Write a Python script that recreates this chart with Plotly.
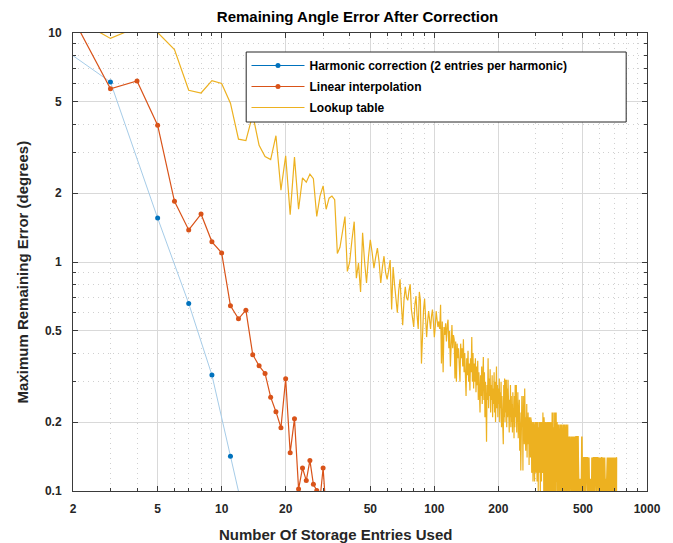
import plotly.graph_objects as go

# ---- data -----------------------------------------------------------------
# Harmonic correction: storage entries (odd counts) and max remaining error
harmonic_entries = [3, 5, 7, 9, 11]
harmonic_err = [6.11, 1.555, 0.659, 0.321, 0.142]
# Pale guide line through the harmonic results
harmonic_fit_entries = [2, 3, 5, 7, 9, 11, 13]
harmonic_fit_err = [7.96, 6.11, 1.555, 0.659, 0.321, 0.142, 0.072]

# Linear interpolation, entries 2..31
linear_entries = list(range(2, 32))
linear_err = [11.6, 5.71, 6.17, 3.96, 1.84, 1.38, 1.62, 1.225, 1.096, 0.644,
              0.565, 0.616, 0.394, 0.352, 0.326, 0.257, 0.222, 0.189, 0.309, 0.147,
              0.207, 0.102, 0.126, 0.111, 0.136, 0.107, 0.1006, 0.092, 0.126, 0.08]

# Lookup table, entries 2..721
lookup_err = [
    11.7, 9.47, 10.6, 10.05, 8.46, 5.62, 5.47, 6.19, 6.02,                      # 2-10
    4.94, 3.44, 3.39, 4.4, 3.23, 2.89, 2.80, 3.56, 2.06, 2.91,                  # 11-20
    1.61, 2.87, 1.70, 2.33, 2.23, 2.42, 2.31, 1.58, 1.94, 2.15,                 # 21-30
    1.70, 1.90, 1.94, 1.87, 1.09, 1.16, 1.35, 1.58, 0.91, 1.00,                 # 31-40
    1.25, 1.50, 0.85, 0.99, 0.74, 1.34, 1.00, 0.81, 1.05, 1.25,                 # 41-50
    1.10, 0.94, 1.05, 1.15, 1.00, 0.81, 0.95, 1.06, 0.90, 0.84,                 # 51-60
    0.92, 1.02, 0.62, 0.95, 0.80, 0.70, 0.60, 0.75, 0.84, 0.65,                 # 61-70
    0.53, 0.68, 0.78, 0.70, 0.68, 0.75, 0.80, 0.62, 0.55, 0.52,                 # 71-80
    0.65, 0.71, 0.58, 0.51, 0.74, 0.68, 0.36, 0.52, 0.62, 0.69,                 # 81-90
    0.55, 0.47, 0.55, 0.61, 0.56, 0.51, 0.58, 0.62, 0.55, 0.47,                 # 91-100
    0.52, 0.61, 0.56, 0.52, 0.55, 0.51, 0.65, 0.36, 0.55, 0.33,                 # 101-110
    0.52, 0.48, 0.54, 0.45, 0.53, 0.56, 0.42, 0.50, 0.35, 0.47,                 # 111-120
    0.53, 0.42, 0.48, 0.46, 0.31, 0.45, 0.30, 0.44, 0.38, 0.42,                 # 121-130
    0.36, 0.30, 0.44, 0.38, 0.42, 0.35, 0.46, 0.33, 0.40, 0.30,                 # 131-140
    0.26, 0.38, 0.32, 0.41, 0.30, 0.36, 0.275, 0.38, 0.33, 0.47,                # 141-150
    0.30, 0.40, 0.28, 0.36, 0.30, 0.38, 0.27, 0.35, 0.29, 0.37,                 # 151-160
    0.25, 0.33, 0.27, 0.22, 0.32, 0.26, 0.35, 0.24, 0.31, 0.385,                # 161-170
    0.25, 0.33, 0.21, 0.30, 0.24, 0.164, 0.29, 0.25, 0.38, 0.23,                # 171-180
    0.31, 0.26, 0.34, 0.22, 0.29, 0.25, 0.32, 0.21, 0.28, 0.24,                 # 181-190
    0.33, 0.22, 0.30, 0.20, 0.27, 0.35, 0.23, 0.29, 0.21, 0.28,                 # 191-200
    0.24, 0.31, 0.20, 0.27, 0.23, 0.30, 0.19, 0.26, 0.22, 0.17,                 # 201-210
    0.16, 0.29, 0.21, 0.31, 0.20, 0.306, 0.22, 0.306, 0.19, 0.28,               # 211-220
    0.21, 0.306, 0.20, 0.27, 0.18, 0.25, 0.21, 0.29, 0.19, 0.26,                # 221-230
    0.20, 0.24, 0.18, 0.27, 0.20, 0.23, 0.17, 0.26, 0.19, 0.29,                 # 231-240
    0.21, 0.25, 0.29, 0.18, 0.24, 0.20, 0.27, 0.17, 0.23, 0.19,                 # 241-250
    0.25, 0.15, 0.22, 0.18, 0.123, 0.24, 0.17, 0.26, 0.19, 0.22,                # 251-260
    0.123, 0.26, 0.18, 0.23, 0.16, 0.28, 0.19, 0.22, 0.15, 0.21,                # 261-270
    0.17, 0.24, 0.14, 0.20, 0.16, 0.22, 0.18, 0.20, 0.13, 0.21,                 # 271-280
    0.17, 0.20, 0.14, 0.21, 0.16, 0.20, 0.12, 0.19, 0.15, 0.20,                 # 281-290
    0.11, 0.18, 0.14, 0.20, 0.13, 0.11, 0.19, 0.15, 0.20, 0.12,                 # 291-300
    0.18, 0.14, 0.20, 0.11, 0.17, 0.13, 0.20, 0.10, 0.16, 0.19,                 # 301-310
    0.12, 0.20, 0.14, 0.17, 0.09, 0.20, 0.13, 0.18, 0.11, 0.20,                 # 311-320
    0.14, 0.22, 0.12, 0.22, 0.15, 0.19, 0.10, 0.21, 0.13, 0.18,                 # 321-330
    0.09, 0.20, 0.12, 0.18, 0.10, 0.20, 0.14, 0.09, 0.19, 0.12,                 # 331-340
    0.20, 0.10, 0.17, 0.13, 0.20, 0.09, 0.18, 0.11, 0.20, 0.14,                 # 341-350
    0.09, 0.19, 0.12, 0.20, 0.10, 0.17, 0.14, 0.22, 0.10, 0.22,                 # 351-360
    0.13, 0.22, 0.09, 0.22, 0.12, 0.19, 0.10, 0.22, 0.14, 0.20,                 # 361-370
    0.09, 0.22, 0.11, 0.22, 0.13, 0.18, 0.09, 0.20, 0.14, 0.195,                # 371-380
    0.10, 0.195, 0.12, 0.17, 0.09, 0.195, 0.14, 0.195, 0.10, 0.17,              # 381-390
    0.12, 0.195, 0.09, 0.195, 0.14, 0.17, 0.10, 0.195, 0.12, 0.195,             # 391-400
    0.09, 0.17, 0.14, 0.195, 0.10, 0.195, 0.12, 0.14, 0.09, 0.195,              # 401-410
    0.14, 0.195, 0.10, 0.17, 0.12, 0.195, 0.09, 0.195, 0.14, 0.17,              # 411-420
    0.10, 0.17, 0.14, 0.195, 0.09, 0.17, 0.14, 0.10, 0.17, 0.12,                # 421-430
    0.173, 0.09, 0.14, 0.173, 0.10, 0.14, 0.173, 0.12, 0.09, 0.173,             # 431-440
    0.14, 0.10, 0.173, 0.14, 0.09, 0.173, 0.12, 0.14, 0.10, 0.173,              # 441-450
    0.14, 0.09, 0.14, 0.173, 0.10, 0.14, 0.12, 0.173, 0.09, 0.14,               # 451-460
    0.173, 0.10, 0.173, 0.173, 0.14, 0.09, 0.14, 0.173, 0.173, 0.10,            # 461-470
    0.14, 0.14, 0.09, 0.173, 0.173, 0.14, 0.10, 0.14, 0.14, 0.09,               # 471-480
    0.113, 0.09, 0.113, 0.09, 0.113, 0.09, 0.113, 0.09, 0.113, 0.09,            # 481-490
    0.113, 0.09, 0.173, 0.09, 0.173, 0.09, 0.113, 0.14, 0.09, 0.14,             # 491-500
    0.09, 0.14, 0.09, 0.14, 0.14, 0.09, 0.14, 0.09, 0.14, 0.09,                 # 501-510
    0.14, 0.14, 0.09, 0.14, 0.09, 0.14, 0.09, 0.14, 0.14, 0.09,                 # 511-520
    0.14, 0.09, 0.14, 0.09, 0.14, 0.14, 0.09, 0.14, 0.09, 0.14,                 # 521-530
    0.09, 0.14, 0.09, 0.14, 0.113, 0.09, 0.113, 0.09, 0.113, 0.09,              # 531-540
    0.113, 0.09, 0.113, 0.09, 0.113, 0.09, 0.113, 0.09, 0.113, 0.14,            # 541-550
    0.09, 0.14, 0.14, 0.09, 0.14, 0.09, 0.14, 0.09, 0.14, 0.14,                 # 551-560
    0.09, 0.14, 0.09, 0.14, 0.09, 0.14, 0.14, 0.09, 0.14, 0.09,                 # 561-570
    0.14, 0.09, 0.14, 0.14, 0.09, 0.14, 0.09, 0.14, 0.09, 0.14,                 # 571-580
    0.14, 0.09, 0.14, 0.09, 0.14, 0.09, 0.14, 0.14, 0.09, 0.113,                # 581-590
    0.09, 0.113, 0.09, 0.113, 0.09, 0.14, 0.09, 0.14, 0.14, 0.09,               # 591-600
    0.14, 0.09, 0.14, 0.09, 0.14, 0.14, 0.09, 0.14, 0.09, 0.14,                 # 601-610
    0.09, 0.14, 0.14, 0.09, 0.14, 0.09, 0.14, 0.09, 0.14, 0.14,                 # 611-620
    0.09, 0.14, 0.09, 0.14, 0.09, 0.14, 0.14, 0.09, 0.14, 0.09,                 # 621-630
    0.14, 0.09, 0.14, 0.14, 0.09, 0.14, 0.09, 0.14, 0.09, 0.113,                # 631-640
    0.09, 0.113, 0.09, 0.113, 0.09, 0.113, 0.09, 0.113, 0.09, 0.14,             # 641-650
    0.09, 0.14, 0.14, 0.09, 0.14, 0.09, 0.14, 0.09, 0.14, 0.14,                 # 651-660
    0.09, 0.14, 0.09, 0.14, 0.09, 0.14, 0.14, 0.09, 0.14, 0.09,                 # 661-670
    0.14, 0.09, 0.14, 0.14, 0.09, 0.14, 0.09, 0.14, 0.09, 0.14,                 # 671-680
    0.14, 0.09, 0.14, 0.09, 0.14, 0.09, 0.14, 0.14, 0.09, 0.14,                 # 681-690
    0.09, 0.14, 0.09, 0.14, 0.14, 0.09, 0.14, 0.09, 0.14, 0.09,                 # 691-700
    0.14, 0.14, 0.09, 0.14, 0.09, 0.14, 0.09, 0.14, 0.14, 0.09,                 # 701-710
    0.14, 0.09, 0.14, 0.09, 0.14, 0.14, 0.09, 0.14, 0.09, 0.14,                 # 711-720
    0.14,                                                                      # 721
]
lookup_entries = list(range(2, 2 + len(lookup_err)))

x_tickvals = [2, 5, 10, 20, 50, 100, 200, 500, 1000]
x_minor = [3, 4, 6, 7, 8, 9, 30, 40, 60, 70, 80, 90, 300, 400, 600, 700, 800, 900]
y_tickvals = [0.1, 0.2, 0.5, 1, 2, 5, 10]
y_ticktext = ["0.1", "0.2", "0.5", "1", "2", "5", "10"]
y_minor = [0.3, 0.4, 0.6, 0.7, 0.8, 0.9, 3, 4, 6, 7, 8, 9]

names = ["Harmonic correction (2 entries per harmonic)",
         "Linear interpolation",
         "Lookup table"]

BLUE = "#0072BD"
RED = "#D95319"
GOLD = "#EDB120"
INK = "#262626"
FONT = "Liberation Sans, Arial, sans-serif"

# ---- figure ---------------------------------------------------------------
fig = go.Figure()

# legend entry for the harmonic series (line + marker)
fig.add_trace(go.Scatter(x=[None], y=[None], mode="lines+markers", name=names[0],
                         legendgroup="h", line=dict(color=BLUE, width=1.2),
                         marker=dict(color=BLUE, size=5)))
fig.add_trace(go.Scatter(x=harmonic_fit_entries, y=harmonic_fit_err, mode="lines",
                         showlegend=False, legendgroup="h",
                         line=dict(color="#a6cce8", width=1)))
fig.add_trace(go.Scatter(x=harmonic_entries, y=harmonic_err, mode="markers",
                         showlegend=False, legendgroup="h",
                         marker=dict(color=BLUE, size=5)))
fig.add_trace(go.Scatter(x=linear_entries, y=linear_err, mode="lines+markers",
                         name=names[1], legendgroup="l",
                         line=dict(color=RED, width=1.2),
                         marker=dict(color=RED, size=5)))
fig.add_trace(go.Scatter(x=lookup_entries, y=lookup_err, mode="lines",
                         name=names[2], legendgroup="t",
                         line=dict(color=GOLD, width=1.2)))

L, R, T, B = 73, 21, 33, 52
W, H = 673, 543
pw, ph = W - L - R, H - T - B


def px_x(px):
    return (px - L) / pw


def px_y(py):
    return (H - B - py) / ph


axis_common = dict(
    showline=True, linecolor="#3a3a3a", linewidth=1, mirror="allticks",
    ticks="inside", ticklen=5, tickcolor="#3a3a3a",
    showgrid=True, gridcolor="#d9d9d9", gridwidth=1,
    zeroline=False,
    tickfont=dict(family=FONT, size=12, color=INK, weight="bold"),
)

fig.update_xaxes(type="log", range=[0.30103, 3], tickmode="array",
                 tickvals=x_tickvals, ticktext=[str(v) for v in x_tickvals],
                 ticklabelstandoff=7,
                 minor=dict(tickvals=x_minor, ticks="inside", ticklen=3,
                            tickcolor="#3a3a3a", showgrid=True,
                            gridcolor="#d0d0d0", griddash="1px,4px"),
                 **axis_common)
fig.update_yaxes(type="log", range=[-1, 1], tickmode="array",
                 tickvals=y_tickvals, ticktext=y_ticktext,
                 ticklabelstandoff=8,
                 minor=dict(tickvals=y_minor, ticks="inside", ticklen=3,
                            tickcolor="#3a3a3a", showgrid=True,
                            gridcolor="#d0d0d0", griddash="1px,4px"),
                 **axis_common)

fig.update_layout(
    width=W, height=H,
    margin=dict(l=L, r=R, t=T, b=B),
    paper_bgcolor="white", plot_bgcolor="white",
    title=dict(text="Remaining Angle Error After Correction",
               x=px_x(360), xref="paper", xanchor="center",
               y=1 - 17 / H, yref="container", yanchor="middle",
               font=dict(family=FONT, size=15, color="black", weight="bold")),
    legend=dict(x=px_x(248), y=px_y(51), xanchor="left", yanchor="top",
                bgcolor="rgba(0,0,0,0)", borderwidth=0, itemwidth=53,
                tracegroupgap=2,
                font=dict(family=FONT, size=12, color="black", weight="bold")),
    shapes=[dict(type="rect", xref="paper", yref="paper",
                 x0=px_x(247.7), x1=px_x(631), y0=px_y(122), y1=px_y(52),
                 line=dict(color=INK, width=1), fillcolor="white", layer="above")],
    annotations=[
        dict(text="Number Of Storage Entries Used", xref="paper", yref="paper",
             x=px_x(338), y=px_y(534), xanchor="center", yanchor="middle",
             showarrow=False,
             font=dict(family=FONT, size=15, color=INK, weight="bold")),
        dict(text="Maximum Remaining Error (degrees)", xref="paper", yref="paper",
             x=px_x(22), y=px_y(272), xanchor="center", yanchor="middle",
             textangle=-90, showarrow=False,
             font=dict(family=FONT, size=15, color=INK, weight="bold")),
    ],
)

fig.write_html("out.html")
